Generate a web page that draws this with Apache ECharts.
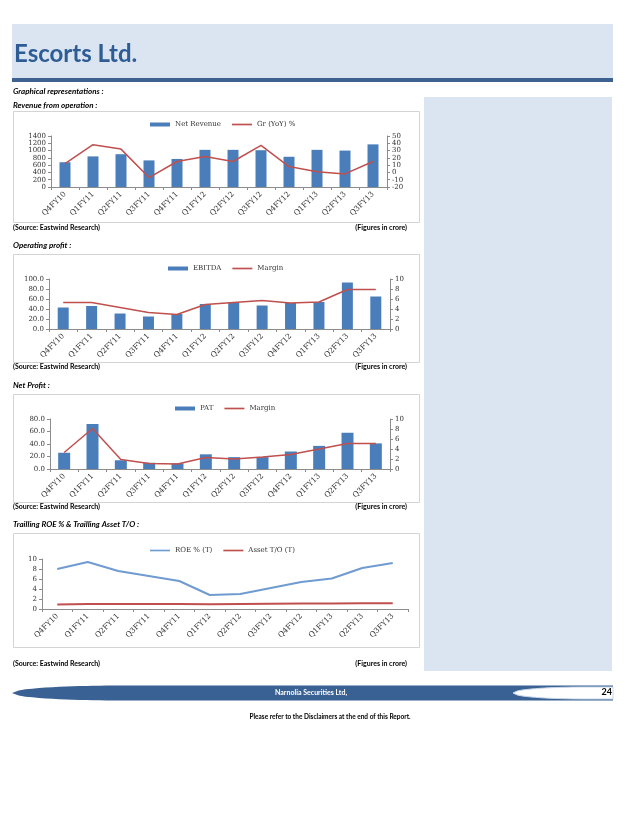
<!DOCTYPE html>
<html>
<head>
<meta charset="utf-8">
<script src="https://cdn.jsdelivr.net/npm/echarts@6/dist/echarts.min.js"></script>
<style>
html,body{margin:0;padding:0;background:#fff;}
#c{width:638px;height:826px;}
</style>
</head>
<body>
<div id="c"></div>
<script>
// ---- data ----
var categories = ['Q4FY10','Q1FY11','Q2FY11','Q3FY11','Q4FY11','Q1FY12','Q2FY12','Q3FY12','Q4FY12','Q1FY13','Q2FY13','Q3FY13'];
var netRevenue = [680, 840, 900, 730, 770, 1020, 1020, 1010, 830, 1020, 1000, 1170];
var revenueGrowth = [12, 38, 32, -7, 15, 22, 15, 37, 8, 1, -2, 15];
var ebitda = [43, 46, 31, 25, 30, 50, 53, 47, 52, 54, 93, 65];
var ebitdaMargin = [5.3, 5.3, 4.3, 3.3, 2.9, 4.9, 5.3, 5.7, 5.2, 5.4, 7.9, 7.9];
var pat = [26, 72, 14, 10, 9, 23.5, 19, 19, 28, 37, 58, 41];
var patMargin = [3.3, 8.1, 1.9, 1.1, 1.0, 2.3, 2.0, 2.4, 2.9, 4.0, 5.1, 5.1];
var roe = [8.0, 9.4, 7.6, 6.6, 5.6, 2.8, 3.0, 4.2, 5.4, 6.1, 8.2, 9.2];
var assetTurnover = [0.9, 1.0, 1.0, 1.0, 1.0, 0.95, 1.0, 1.05, 1.1, 1.1, 1.15, 1.15];
var legendNames = [['Net Revenue','Gr (YoY) %'],['EBITDA','Margin'],['PAT','Margin '],['ROE % (T)','Asset T/O (T)']];
var legendIsLine = [[false,true],[false,true],[false,true],[true,true]];

var BLUE = '#4a7ebb', RED = '#c0504d', ROEBLUE = '#6f9bd1';
var AX = '#8c8c8c', TXT = '#333333';
var serif = 'DejaVu Serif';
var LINE_ICON = 'path://M0,0H36V3H0Z';

var chart = echarts.init(document.getElementById('c'), null, {renderer:'canvas'});

function xAxis(gi){
  return {type:'category', gridIndex:gi, data:categories, boundaryGap:true,
    axisLine:{show:true, lineStyle:{color:AX, width:1}},
    axisTick:{show:true, length:3, lineStyle:{color:AX}},
    axisLabel:{rotate:45, fontSize:7.5, fontFamily:serif, color:TXT, margin:6, interval:0}};
}
function yAxis(gi, pos, min, max, interval, fmt){
  return {type:'value', gridIndex:gi, position:pos, min:min, max:max, interval:interval,
    splitLine:{show:false},
    axisLine:{show:true, lineStyle:{color:AX, width:1}},
    axisTick:{show:true, length:3, lineStyle:{color:AX}},
    axisLabel:{fontSize:7, fontFamily:serif, color:TXT, margin:5, formatter:fmt,
      showMinLabel:true, showMaxLabel:true, hideOverlap:false}};
}
var fix1 = function(v){return v.toFixed(1);};
var int0 = function(v){return String(v);};

function legend(idx, left, top){
  var data = legendNames[idx].map(function(n, k){
    return legendIsLine[idx][k] ? {name:n, icon:LINE_ICON} : {name:n, icon:'rect'};
  });
  return {data:data, left:left, top:top, orient:'horizontal',
    itemWidth:20, itemHeight:4, itemGap:11, selectedMode:false,
    textStyle:{fontSize:7, fontFamily:serif, color:TXT}};
}

// tapered band outlines (decoration)
function lens(x0, xFull, yTop, yBot, xEnd, steps){
  var pts = [], yc = (yTop + yBot) / 2, h = (yBot - yTop) / 2, i, t;
  for (i = 0; i <= steps; i++) { t = i / steps; pts.push([x0 + (xFull - x0) * t, yc - h * Math.sqrt(1 - (1 - t) * (1 - t))]); }
  pts.push([xEnd, yTop]); pts.push([xEnd, yBot]);
  for (i = steps; i >= 0; i--) { t = i / steps; pts.push([x0 + (xFull - x0) * t, yc + h * Math.sqrt(1 - (1 - t) * (1 - t))]); }
  return pts;
}

var boxes = [[13,111,406,111],[13,254,406,108],[13,394,406,108],[13,533,406,114]];
var graphics = [
  {type:'rect', shape:{x:12,y:24,width:601,height:54}, style:{fill:'#dbe5f1'}},
  {type:'rect', shape:{x:12,y:78,width:601,height:4}, style:{fill:'#3f6190'}},
  {type:'text', x:14, y:54, style:{text:'Escorts Ltd.', fill:'#2e5c94', font:'bold 24px Lato', textVerticalAlign:'middle'}},
  {type:'text', x:13, y:91, style:{text:'Graphical representations :', fill:'#000', font:'italic bold 8px Lato', textVerticalAlign:'middle'}},
  {type:'text', x:13, y:105, style:{text:'Revenue from operation :', fill:'#000', font:'italic bold 8px Lato', textVerticalAlign:'middle'}},
  {type:'text', x:13, y:245, style:{text:'Operating profit :', fill:'#000', font:'italic bold 8px Lato', textVerticalAlign:'middle'}},
  {type:'text', x:13, y:385, style:{text:'Net Profit :', fill:'#000', font:'italic bold 8px Lato', textVerticalAlign:'middle'}},
  {type:'text', x:13, y:524, style:{text:'Trailling ROE % & Trailling Asset T/O :', fill:'#000', font:'italic bold 8px Lato', textVerticalAlign:'middle'}},
  {type:'rect', shape:{x:424,y:97,width:188,height:574}, style:{fill:'#dbe5f1'}},
  {type:'polygon', shape:{points:lens(12, 120, 685.5, 700.5, 613, 16)}, style:{fill:'#3a6193'}},
  {type:'polygon', shape:{points:lens(513, 585, 687, 699, 613, 16)}, style:{fill:'#ffffff', stroke:'#c9d7ea', lineWidth:1}},
  {type:'text', x:311, y:693, style:{text:'Narnolia Securities Ltd,', fill:'#ffffff', font:'bold 7px Lato', textAlign:'center', textVerticalAlign:'middle'}},
  {type:'text', x:612, y:692, style:{text:'24', fill:'#000', font:'bold 9px Lato', textAlign:'right', textVerticalAlign:'middle'}},
  {type:'text', x:330, y:717, style:{text:'Please refer to the Disclaimers at the end of this Report.', fill:'#000', font:'bold 6.5px Lato', textAlign:'center', textVerticalAlign:'middle'}}
];
var srcY = [228, 367, 507, 664];
boxes.forEach(function(b, i){
  graphics.push({type:'rect', z:-1, shape:{x:b[0]+0.5,y:b[1]+0.5,width:b[2],height:b[3]}, style:{fill:'#fff', stroke:'#d4d4d4', lineWidth:1}});
  graphics.push({type:'text', x:13, y:srcY[i], style:{text:'(Source: Eastwind Research)', fill:'#000', font:'bold 7px Lato', textVerticalAlign:'middle'}});
  graphics.push({type:'text', x:407, y:srcY[i], style:{text:'(Figures in crore)', fill:'#000', font:'bold 7px Lato', textAlign:'right', textVerticalAlign:'middle'}});
});

var option = {
  backgroundColor:'#ffffff',
  animation:false,
  graphic:{elements:graphics},
  legend:[legend(0,145,116), legend(1,163,260), legend(2,170,400), legend(3,145,542)],
  grid:[
    {left:51, top:136, width:336, height:51},
    {left:49, top:279, width:341, height:50},
    {left:50, top:419, width:340, height:50},
    {left:42, top:559, width:366, height:50}
  ],
  xAxis:[xAxis(0), xAxis(1), xAxis(2), xAxis(3)],
  yAxis:[
    yAxis(0,'left',0,1400,200,int0),
    yAxis(0,'right',-20,50,10,int0),
    yAxis(1,'left',0,100,20,fix1),
    yAxis(1,'right',0,10,2,int0),
    yAxis(2,'left',0,80,20,fix1),
    yAxis(2,'right',0,10,2,int0),
    yAxis(3,'left',0,10,2,int0)
  ],
  series:[
    {name:'Net Revenue', type:'bar', xAxisIndex:0, yAxisIndex:0, data:netRevenue, barWidth:11, itemStyle:{color:BLUE}},
    {name:'Gr (YoY) %', type:'line', xAxisIndex:0, yAxisIndex:1, data:revenueGrowth, symbol:'none', lineStyle:{color:RED, width:1.5}, itemStyle:{color:RED}},
    {name:'EBITDA', type:'bar', xAxisIndex:1, yAxisIndex:2, data:ebitda, barWidth:11, itemStyle:{color:BLUE}},
    {name:'Margin', type:'line', xAxisIndex:1, yAxisIndex:3, data:ebitdaMargin, symbol:'none', lineStyle:{color:RED, width:1.5}, itemStyle:{color:RED}},
    {name:'PAT', type:'bar', xAxisIndex:2, yAxisIndex:4, data:pat, barWidth:12, itemStyle:{color:BLUE}},
    {name:'Margin ', type:'line', xAxisIndex:2, yAxisIndex:5, data:patMargin, symbol:'none', lineStyle:{color:RED, width:1.5}, itemStyle:{color:RED}},
    {name:'ROE % (T)', type:'line', xAxisIndex:3, yAxisIndex:6, data:roe, symbol:'none', lineStyle:{color:ROEBLUE, width:2}, itemStyle:{color:ROEBLUE}},
    {name:'Asset T/O (T)', type:'line', xAxisIndex:3, yAxisIndex:6, data:assetTurnover, symbol:'none', lineStyle:{color:RED, width:2}, itemStyle:{color:RED}}
  ]
};
chart.setOption(option);
</script>
</body>
</html>
